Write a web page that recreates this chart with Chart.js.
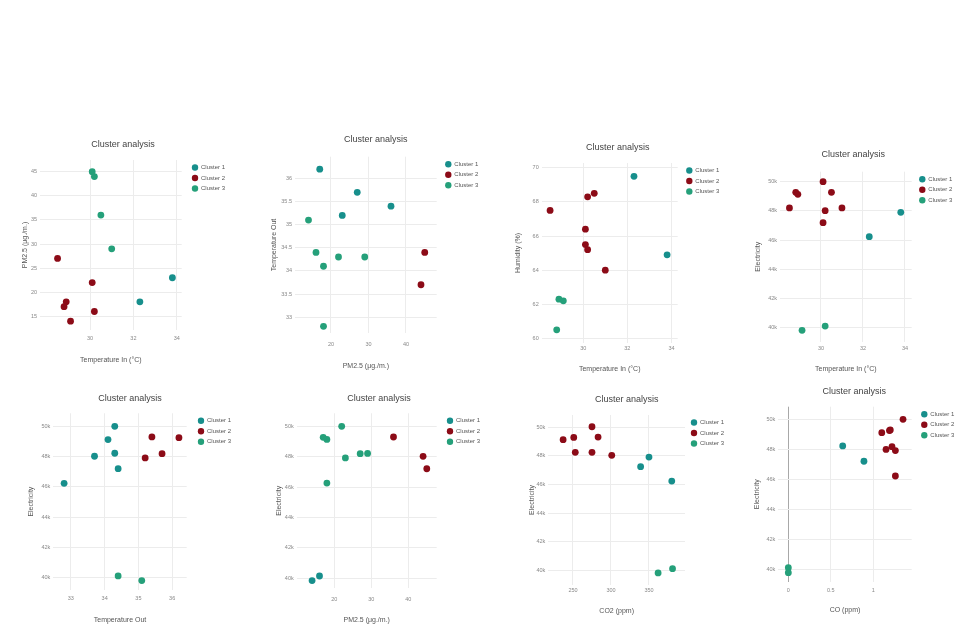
<!DOCTYPE html>
<html>
<head>
<meta charset="utf-8">
<script src="https://cdn.jsdelivr.net/npm/chart.js@4"></script>
<style>
html,body{margin:0;padding:0;background:#fff;width:969px;height:625px;overflow:hidden;position:relative}
canvas{position:absolute}
</style>
</head>
<body>
<script>
// ---------- labels ----------
const chartTitle = "Cluster analysis";
const clusterNames = ["Cluster 1", "Cluster 2", "Cluster 3"];

// ---------- tick values ----------
const tempInTicks = [30, 32, 34];
const pm25YTicks = [15, 20, 25, 30, 35, 40, 45];
const pm25XTicks = [20, 30, 40];
const tempOutYTicks = [33, 33.5, 34, 34.5, 35, 35.5, 36];
const tempOutXTicks = [33, 34, 35, 36];
const humidityTicks = [60, 62, 64, 66, 68, 70];
const elecTicks = [40000, 42000, 44000, 46000, 48000, 50000];
const co2Ticks = [250, 300, 350];
const coTicks = [0, 0.5, 1];

// ---------- data: [x, y] per cluster ----------
// 1: Temperature In vs PM2.5
const p1c1 = [[33.8, 23], [32.3, 18]];
const p1c2 = [[28.5, 27], [30.1, 22], [28.9, 18], [28.8, 17], [30.2, 16], [29.1, 14]];
const p1c3 = [[30.1, 45], [30.2, 44], [30.5, 36], [31.0, 29]];
// 2: PM2.5 vs Temperature Out
const p2c1 = [[17, 36.2], [27, 35.7], [36, 35.4], [23, 35.2]];
const p2c2 = [[45, 34.4], [44, 33.7]];
const p2c3 = [[14, 35.1], [16, 34.4], [22, 34.3], [29, 34.3], [18, 34.1], [18, 32.8]];
// 3: Temperature In vs Humidity
const p3c1 = [[32.3, 69.5], [33.8, 64.9]];
const p3c2 = [[28.5, 67.5], [30.2, 68.3], [30.5, 68.5], [30.1, 66.4], [30.1, 65.5], [30.2, 65.2], [31.0, 64.0]];
const p3c3 = [[28.9, 62.3], [29.1, 62.2], [28.8, 60.5]];
// 4: Temperature In vs Electricity
const p4c1 = [[33.8, 47900], [32.3, 46230]];
const p4c2 = [[30.1, 50000], [28.8, 49270], [28.9, 49130], [30.5, 49270], [28.5, 48200], [30.2, 48010], [31.0, 48200], [30.1, 47190]];
const p4c3 = [[29.1, 39820], [30.2, 40110]];
// 5: Temperature Out vs Electricity
const p5c1 = [[34.3, 50000], [34.1, 49120], [33.7, 48020], [34.3, 48220], [34.4, 47200], [32.8, 46230]];
const p5c2 = [[35.4, 49300], [36.2, 49250], [35.7, 48190], [35.2, 47910]];
const p5c3 = [[34.4, 40110], [35.1, 39800]];
// 6: PM2.5 vs Electricity
const p6c1 = [[14, 39850], [16, 40150]];
const p6c2 = [[36, 49300], [44, 48030], [45, 47210]];
const p6c3 = [[22, 50000], [17, 49280], [18, 49140], [27, 48200], [29, 48220], [23, 47920], [18, 46270]];
// 7: CO2 vs Electricity
const p7c1 = [[350, 47910], [339, 47240], [380, 46240]];
const p7c2 = [[237, 49120], [251, 49280], [275, 50020], [283, 49300], [253, 48240], [275, 48240], [301, 48030]];
const p7c3 = [[362, 39840], [381, 40140]];
// 8: CO vs Electricity
const p8c1 = [[0.64, 48230], [0.89, 47210]];
const p8c2 = [[1.35, 50000], [1.10, 49110], [1.19, 49250], [1.20, 49290], [1.15, 48000], [1.22, 48180], [1.26, 47920], [1.26, 46230]];
const p8c3 = [[0, 40130], [0, 39800]];

// ---------- styles ----------
const clusterColors = ["#178f8c", "#8c0b17", "#25a07a"];
const FONT = "'Liberation Sans', Arial, Helvetica, sans-serif";
Chart.defaults.font.family = FONT;
const gridColor = "#ececec";
const fmtK = v => (v / 1000) + "k";
const fmtN = v => String(v);

function panel(spec, ax, clusters) {
  const tFont = 9, tLH = tFont * 1.2;
  const aFont = 7, aLH = aFont * 1.2;
  const legPad = 4.5, boxW = 6, legFont = 6;
  const CL = Math.round(spec.yTitleX - aLH / 2);
  const CT = Math.round(spec.titleY - tLH / 2);
  const yW = spec.plotL - CL;
  const spacer = Math.max(0, spec.legX - spec.plotR - legPad - boxW / 2);
  const legRight = 2 * spec.titleX - CL;
  const legW = legRight - spec.plotR - spacer;
  const CR = Math.min(969, Math.round(legRight + 30));
  const padR = CR - legRight;
  const xBottom = spec.xTitleY + aLH / 2;
  const CB = Math.min(625, Math.round(xBottom + 2));
  const padB = Math.max(0, CB - xBottom);
  const xH = xBottom - spec.plotB;
  const tPadTop = spec.titleY - tLH / 2 - CT;
  const tPadBot = spec.plotT - spec.titleY - tLH / 2;
  const xTickPad = spec.xTickY - spec.plotB - 3.3;

  const cv = document.createElement('canvas');
  cv.width = CR - CL; cv.height = CB - CT;
  cv.style.left = CL + 'px'; cv.style.top = CT + 'px';
  cv.style.width = (CR - CL) + 'px'; cv.style.height = (CB - CT) + 'px';
  document.body.appendChild(cv);

  const tickFont = {size: 5.5, family: FONT};
  const axFont = {size: aFont, family: FONT};
  new Chart(cv, {
    type: 'scatter',
    data: {
      datasets: clusters.map((arr, i) => ({
        label: clusterNames[i],
        data: arr.map(p => ({x: p[0], y: p[1]})),
        backgroundColor: clusterColors[i],
        borderColor: clusterColors[i],
        borderWidth: 0,
        pointRadius: 3.4,
        pointHoverRadius: 3.4,
        xAxisID: 'x', yAxisID: 'y'
      }))
    },
    options: {
      responsive: false, animation: false, devicePixelRatio: 1,
      layout: {padding: {left: 0, top: 0, right: padR, bottom: padB}},
      plugins: {
        tooltip: {enabled: false},
        title: {display: true, text: chartTitle, color: '#444',
          font: {size: tFont, family: FONT, weight: 'normal'},
          padding: {top: tPadTop, bottom: tPadBot}},
        legend: {display: true, position: 'right', align: 'start', fullSize: false, maxWidth: legW,
          labels: {usePointStyle: true, pointStyle: 'circle', boxWidth: boxW, boxHeight: 4.5,
            padding: legPad, color: '#555', font: {size: legFont, family: FONT}}}
      },
      scales: {
        x: {type: 'linear', position: 'bottom', min: ax.x[0], max: ax.x[1],
          afterBuildTicks: s => { s.ticks = ax.xTicks.map(v => ({value: v})); },
          afterFit: s => { s.height = xH; },
          ticks: {font: tickFont, color: '#888', padding: xTickPad, maxRotation: 0, autoSkip: false, callback: ax.xFmt},
          grid: {color: ax.zeroX ? (c => (c.tick && c.tick.value === 0) ? '#a8a8a8' : gridColor) : gridColor, drawTicks: false},
          border: {display: false},
          title: {display: true, text: ax.xLabel, color: '#555', font: axFont, padding: 0}},
        y: {type: 'linear', position: 'left', min: ax.y[0], max: ax.y[1],
          afterBuildTicks: s => { s.ticks = ax.yTicks.map(v => ({value: v})); },
          afterFit: s => { s.width = yW; },
          ticks: {font: tickFont, color: '#888', padding: 3, autoSkip: false, callback: ax.yFmt},
          grid: {color: gridColor, drawTicks: false},
          border: {display: false},
          title: {display: true, text: ax.yLabel, color: '#555', font: axFont, padding: 0}},
        gap: {type: 'linear', position: 'right', display: true,
          afterFit: s => { s.width = spacer; },
          ticks: {display: false}, grid: {display: false, drawTicks: false}, border: {display: false},
          title: {display: false}}
      }
    }
  });
}

const tIn = "Temperature In (°C)", pm = "PM2.5 (μg./m.)", tOut = "Temperature Out", el = "Electricity";

panel({plotL: 40, plotR: 181.7, plotT: 160, plotB: 330, yTitleX: 25, xTickY: 338.3, xTitleY: 360, titleX: 123, titleY: 145, legX: 195},
  {x: [27.69, 34.23], y: [12.16, 47.43], xTicks: tempInTicks, yTicks: pm25YTicks, xFmt: fmtN, yFmt: fmtN, xLabel: tIn, yLabel: pm},
  [p1c1, p1c2, p1c3]);
panel({plotL: 295, plotR: 436.7, plotT: 156.7, plotB: 333.3, yTitleX: 274.3, xTickY: 344, xTitleY: 365.7, titleX: 375.7, titleY: 140, legX: 448.3},
  {x: [10.4, 48.19], y: [32.65, 36.47], xTicks: pm25XTicks, yTicks: tempOutYTicks, xFmt: fmtN, yFmt: fmtN, xLabel: pm, yLabel: tOut},
  [p2c1, p2c2, p2c3]);
panel({plotL: 541.7, plotR: 677.7, plotT: 163, plotB: 343, yTitleX: 517.7, xTickY: 348.3, xTitleY: 369.3, titleX: 617.7, titleY: 147.3, legX: 689.3},
  {x: [28.12, 34.28], y: [59.73, 70.28], xTicks: tempInTicks, yTicks: humidityTicks, xFmt: fmtN, yFmt: fmtN, xLabel: tIn, yLabel: "Humidity (%)"},
  [p3c1, p3c2, p3c3]);
panel({plotL: 780, plotR: 911.7, plotT: 171.7, plotB: 341.7, yTitleX: 757.7, xTickY: 348.3, xTitleY: 369.3, titleX: 853.3, titleY: 155, legX: 922.3},
  {x: [28.05, 34.32], y: [39040, 50680], xTicks: tempInTicks, yTicks: elecTicks, xFmt: fmtN, yFmt: fmtK, xLabel: tIn, yLabel: el},
  [p4c1, p4c2, p4c3]);
panel({plotL: 53.3, plotR: 186.7, plotT: 413.3, plotB: 590, yTitleX: 30.7, xTickY: 598.3, xTitleY: 620, titleX: 130, titleY: 398.3, legX: 201},
  {x: [32.48, 36.43], y: [39180, 50860], xTicks: tempOutXTicks, yTicks: elecTicks, xFmt: fmtN, yFmt: fmtK, xLabel: tOut, yLabel: el},
  [p5c1, p5c2, p5c3]);
panel({plotL: 296.7, plotR: 436.7, plotT: 413.3, plotB: 588.3, yTitleX: 279.3, xTickY: 599, xTitleY: 620, titleX: 379, titleY: 398.3, legX: 450},
  {x: [9.84, 47.68], y: [39340, 50860], xTicks: pm25XTicks, yTicks: elecTicks, xFmt: fmtN, yFmt: fmtK, xLabel: pm, yLabel: el},
  [p6c1, p6c2, p6c3]);
panel({plotL: 548.3, plotR: 685, plotT: 415, plotB: 585, yTitleX: 532.3, xTickY: 590.7, xTitleY: 611, titleX: 626.7, titleY: 400, legX: 694},
  {x: [217.5, 397.4], y: [39000, 50840], xTicks: co2Ticks, yTicks: elecTicks, xFmt: fmtN, yFmt: fmtK, xLabel: "CO2 (ppm)", yLabel: el},
  [p7c1, p7c2, p7c3]);
panel({plotL: 778.3, plotR: 911.7, plotT: 406.7, plotB: 581.7, yTitleX: 756.7, xTickY: 590.7, xTitleY: 610, titleX: 854.3, titleY: 391.7, legX: 924.3},
  {x: [-0.118, 1.452], y: [39200, 50840], xTicks: coTicks, yTicks: elecTicks, xFmt: fmtN, yFmt: fmtK, xLabel: "CO (ppm)", yLabel: el, zeroX: true},
  [p8c1, p8c2, p8c3]);
</script>
</body>
</html>
